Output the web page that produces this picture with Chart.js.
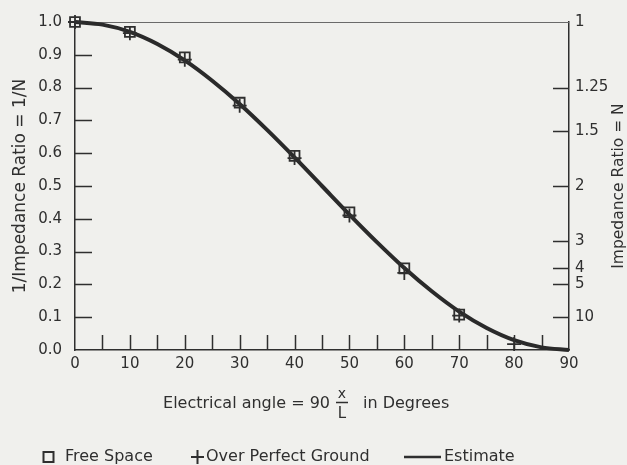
<!DOCTYPE html>
<html><head><meta charset="utf-8">
<script src="https://cdn.jsdelivr.net/npm/chart.js@4"></script>
<style>html,body{margin:0;padding:0;background:#f0f0ed}#wrap{width:627px;height:465px}</style>
</head><body><div id="wrap"><canvas id="c" width="627" height="465"></canvas></div>
<script>
// ---- data ----
const markerAngles = [0, 10, 20, 30, 40, 50, 60, 70, 80];
const freeSpace = [1.0, 0.97, 0.892, 0.754, 0.592, 0.42, 0.249, 0.108, null];
const overPerfectGround = [1.0, 0.966, 0.885, 0.745, 0.585, 0.41, 0.235, 0.105, 0.018];
const estimateAngles = [0, 5, 10, 15, 20, 25, 30, 35, 40, 45, 50, 55, 60, 65, 70, 75, 80, 85, 90];
const estimate = [1.0, 0.992, 0.97, 0.933, 0.883, 0.821, 0.75, 0.671, 0.587, 0.5, 0.413, 0.329, 0.25, 0.179, 0.117, 0.067, 0.03, 0.008, 0.0];
const xTickLabels = [0, 10, 20, 30, 40, 50, 60, 70, 80, 90];
const xTickMarks = [5, 10, 15, 20, 25, 30, 35, 40, 45, 50, 55, 60, 65, 70, 75, 80, 85];
const leftTickValues = [0, 0.1, 0.2, 0.3, 0.4, 0.5, 0.6, 0.7, 0.8, 0.9, 1.0];
const rightTickN = [1, 1.25, 1.5, 2, 3, 4, 5, 10];
const rightTickLabels = ['1', '1.25', '1.5', '2', '3', '4', '5', '10'];
const seriesNames = ['Free Space', 'Over Perfect Ground', 'Estimate'];
const xTitleMain = 'Electrical angle = 90';
const xTitleNum = 'x';
const xTitleDen = 'L';
const xTitleTail = 'in Degrees';
const leftTitle = '1/Impedance Ratio = 1/N';
const rightTitle = 'Impedance Ratio = N';

const INK = '#2f2f2f';
const FONT = '"DejaVu Sans", sans-serif';

const pts = (xs, ys) => xs.map((x, i) => ({x: x, y: ys[i]}));

const bgPlugin = {
  id: 'bg',
  beforeDraw(chart) {
    const ctx = chart.ctx;
    ctx.save();
    ctx.fillStyle = '#f0f0ed';
    ctx.fillRect(0, 0, chart.width, chart.height);
    ctx.restore();
  }
};

const tickPlugin = {
  id: 'inwardTicks',
  beforeDatasetsDraw(chart) {
    const {ctx, chartArea: a, scales} = chart;
    ctx.save();
    ctx.strokeStyle = INK;
    ctx.lineWidth = 1.5;
    ctx.beginPath();
    leftTickValues.forEach(v => {
      if (v <= 0 || v >= 1) return;
      const y = Math.round(scales.y.getPixelForValue(v)) + 0.5;
      ctx.moveTo(a.left, y); ctx.lineTo(a.left + 17, y);
    });
    xTickMarks.forEach(v => {
      const x = Math.round(scales.x.getPixelForValue(v)) + 0.5;
      ctx.moveTo(x, a.bottom); ctx.lineTo(x, a.bottom - 15);
    });
    rightTickN.forEach(n => {
      if (n === 1) return;
      const y = Math.round(scales.y2.getPixelForValue(1 / n)) + 0.5;
      ctx.moveTo(a.right - 16, y); ctx.lineTo(a.right, y);
    });
    ctx.stroke();
    // top frame line
    ctx.strokeStyle = '#6a6a6a';
    ctx.lineWidth = 1;
    ctx.beginPath();
    const yt = Math.round(scales.y.getPixelForValue(1)) + 0.5;
    ctx.moveTo(a.left, yt); ctx.lineTo(a.right, yt);
    ctx.stroke();
    ctx.restore();
  }
};

const textPlugin = {
  id: 'extraText',
  afterDraw(chart) {
    const {ctx, chartArea: a} = chart;
    ctx.save();
    ctx.fillStyle = INK;
    ctx.strokeStyle = INK;
    // x-axis title with fraction
    const cx = (a.left + a.right) / 2;
    const fracX = cx + 20;
    const ty = 404;
    ctx.font = '16px ' + FONT;
    ctx.textBaseline = 'middle';
    ctx.textAlign = 'right';
    ctx.fillText(xTitleMain, fracX - 12, ty);
    ctx.textAlign = 'left';
    ctx.fillText(xTitleTail, fracX + 21, ty);
    ctx.textAlign = 'center';
    ctx.font = '14px ' + FONT;
    ctx.fillText(xTitleNum, fracX, ty - 10);
    ctx.font = '15px ' + FONT;
    ctx.fillText(xTitleDen, fracX, ty + 10);
    ctx.lineWidth = 1.5;
    ctx.beginPath();
    ctx.moveTo(fracX - 6, ty - 1.5); ctx.lineTo(fracX + 6, ty - 1.5);
    ctx.stroke();

    // right title (reads bottom to top)
    ctx.save();
    ctx.translate(619, (a.top + a.bottom) / 2);
    ctx.rotate(-Math.PI / 2);
    ctx.font = '15.5px ' + FONT;
    ctx.textAlign = 'center';
    ctx.textBaseline = 'middle';
    ctx.fillText(rightTitle, 0, 0);
    ctx.restore();

    // legend
    const ly = 457;
    ctx.font = '16px ' + FONT;
    ctx.textAlign = 'left';
    ctx.textBaseline = 'middle';
    ctx.lineWidth = 2;
    ctx.strokeRect(43.5, ly - 5, 10, 10);
    ctx.fillText(seriesNames[0], 65, ly);
    ctx.beginPath();
    ctx.moveTo(191, ly); ctx.lineTo(204, ly);
    ctx.moveTo(197.5, ly - 7); ctx.lineTo(197.5, ly + 7);
    ctx.stroke();
    ctx.fillText(seriesNames[1], 206, ly);
    ctx.lineWidth = 2.5;
    ctx.beginPath();
    ctx.moveTo(404, ly); ctx.lineTo(441, ly);
    ctx.stroke();
    ctx.fillText(seriesNames[2], 444, ly);
    ctx.restore();
  }
};

new Chart(document.getElementById('c'), {
  type: 'line',
  data: {
    datasets: [
      {
        label: seriesNames[2],
        data: pts(estimateAngles, estimate),
        borderColor: '#2a2a2a',
        borderWidth: 4,
        pointRadius: 0,
        cubicInterpolationMode: 'monotone',
        fill: false,
        clip: false,
        order: 3
      },
      {
        label: seriesNames[0],
        data: pts(markerAngles, freeSpace),
        showLine: false,
        pointStyle: 'rect',
        pointRadius: 7,
        pointBorderWidth: 1.8,
        pointBorderColor: '#2f2f2f',
        pointBackgroundColor: 'rgba(0,0,0,0)',
        clip: false,
        order: 1
      },
      {
        label: seriesNames[1],
        data: pts(markerAngles, overPerfectGround),
        showLine: false,
        pointStyle: 'cross',
        pointRadius: 7,
        pointBorderWidth: 1.8,
        pointBorderColor: '#2f2f2f',
        clip: false,
        order: 2
      }
    ]
  },
  options: {
    responsive: false,
    devicePixelRatio: 1,
    animation: false,
    layout: {padding: {top: 17, left: 0, right: 0, bottom: 0}},
    plugins: {legend: {display: false}, tooltip: {enabled: false}},
    scales: {
      x: {
        type: 'linear', min: 0, max: 90,
        afterBuildTicks: s => { s.ticks = xTickLabels.map(v => ({value: v})); },
        afterFit: s => { s.height = 115; },
        grid: {display: false, drawTicks: false},
        border: {display: true, color: INK, width: 1.5},
        ticks: {autoSkip: false, maxRotation: 0, padding: 5, color: INK,
                font: {family: FONT, size: 15}, callback: v => String(v)}
      },
      y: {
        type: 'linear', position: 'left', min: 0, max: 1,
        afterBuildTicks: s => { s.ticks = leftTickValues.map(v => ({value: v})); },
        afterFit: s => { s.width = 75; },
        grid: {display: false, drawTicks: false},
        border: {display: true, color: INK, width: 1.5},
        ticks: {autoSkip: false, padding: 13, color: INK,
                font: {family: FONT, size: 15}, callback: v => v.toFixed(1)},
        title: {display: true, text: leftTitle, color: INK,
                font: {family: FONT, size: 17}, padding: {top: 10, bottom: 0}}
      },
      y2: {
        type: 'linear', position: 'right', min: 0, max: 1,
        afterBuildTicks: s => { s.ticks = rightTickN.map(n => ({value: 1 / n})); },
        afterFit: s => { s.width = 58; },
        grid: {display: false, drawTicks: false},
        border: {display: true, color: INK, width: 1.5},
        ticks: {autoSkip: false, padding: 6, color: INK,
                font: {family: FONT, size: 15}, callback: (v, i) => rightTickLabels[i]}
      }
    }
  },
  plugins: [bgPlugin, tickPlugin, textPlugin]
});
</script>
</body></html>
